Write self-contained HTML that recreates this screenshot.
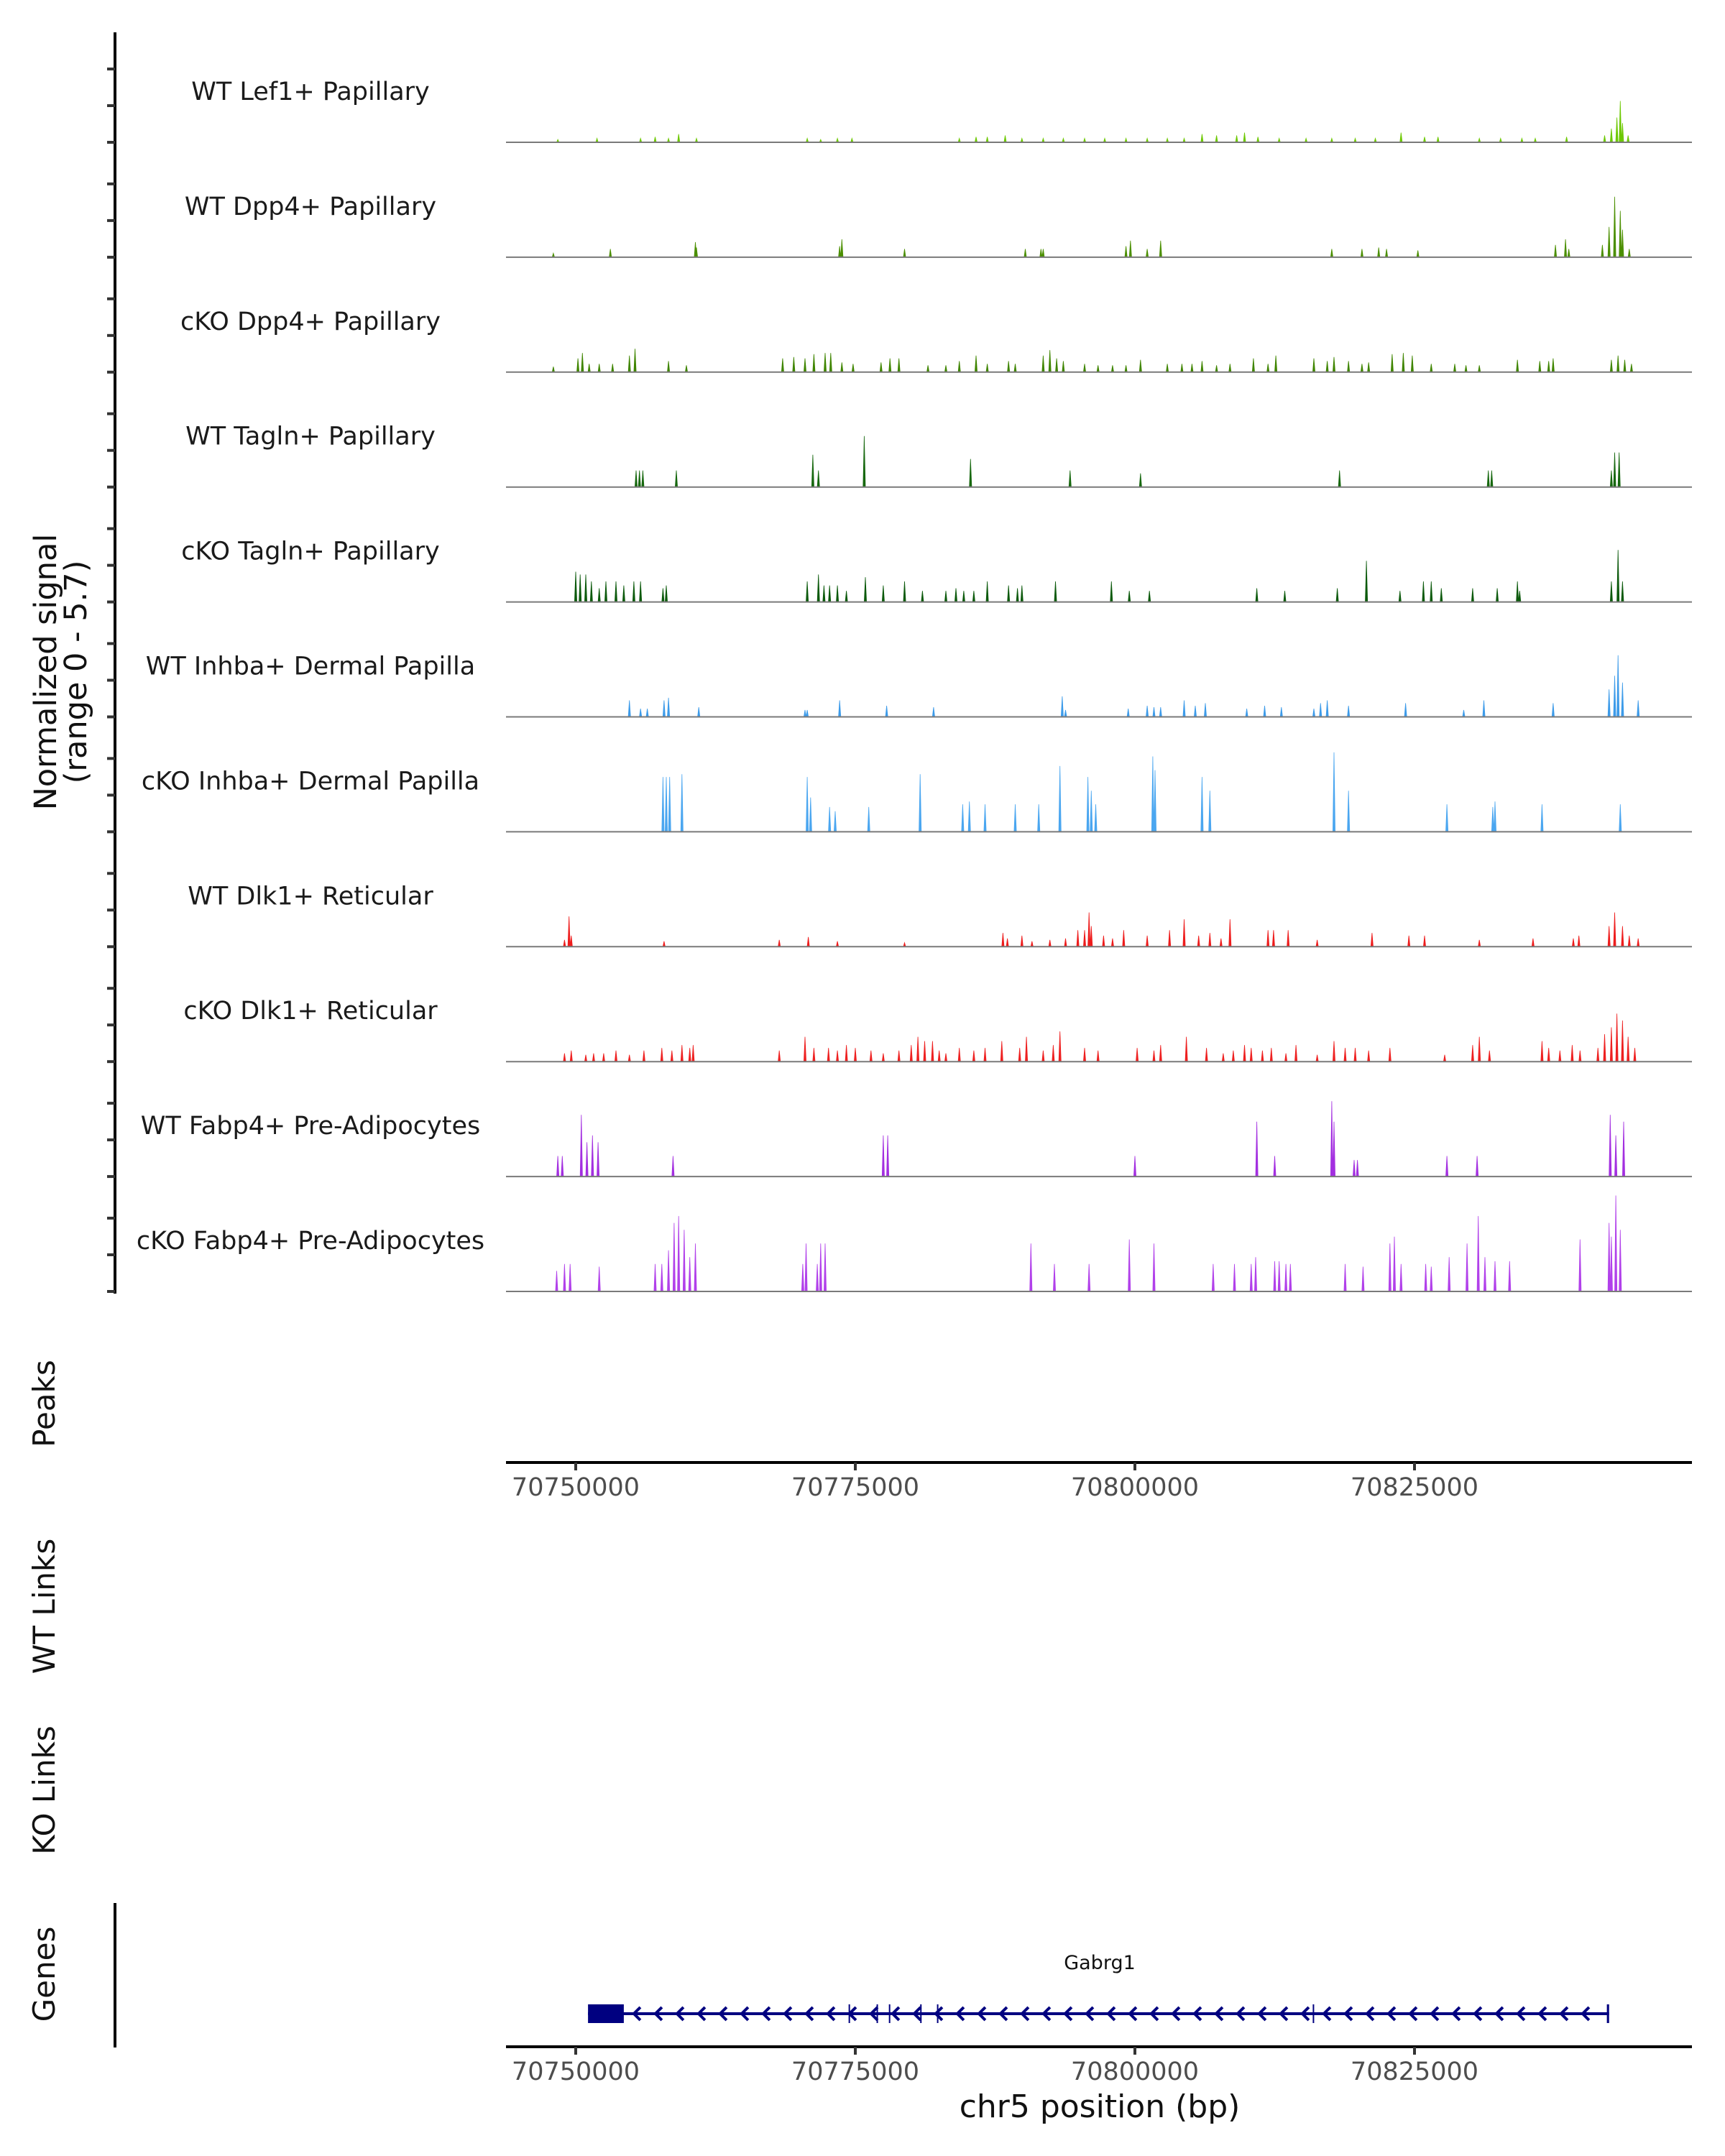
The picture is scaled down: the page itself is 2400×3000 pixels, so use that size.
<!DOCTYPE html>
<html><head><meta charset="utf-8"><style>
html,body{margin:0;padding:0;background:#fff;}
svg{display:block;font-family:"DejaVu Sans","Liberation Sans",sans-serif;}
</style></head>
<body>
<svg id="chart" width="2400" height="3000" viewBox="0 0 2400 3000" xmlns="http://www.w3.org/2000/svg">
<rect x="0" y="0" width="2400" height="3000" fill="#fff"/>
<g id="tracks"></g>
<g id="axes"></g>
<text transform="translate(78,935) rotate(-90)" text-anchor="middle" font-size="43" fill="#111">Normalized signal</text>
<text transform="translate(120,935) rotate(-90)" text-anchor="middle" font-size="43" fill="#111">(range 0 - 5.7)</text>
<text transform="translate(76,1953) rotate(-90)" text-anchor="middle" font-size="42" fill="#111">Peaks</text>
<text transform="translate(76,2235) rotate(-90)" text-anchor="middle" font-size="42" fill="#111">WT Links</text>
<text transform="translate(76,2491) rotate(-90)" text-anchor="middle" font-size="42" fill="#111">KO Links</text>
<text transform="translate(76,2747) rotate(-90)" text-anchor="middle" font-size="42" fill="#111">Genes</text>
<line x1="160" y1="2648" x2="160" y2="2849" stroke="#000" stroke-width="4"/>
<text x="1530" y="2946" text-anchor="middle" font-size="44" fill="#111">chr5 position (bp)</text>
<g id="gene"></g>
</svg>
<script>
// positions in kb offset from chr5:70,700,000 ; values in normalized signal
const trackNames = ["WT Lef1+ Papillary","WT Dpp4+ Papillary","cKO Dpp4+ Papillary","WT Tagln+ Papillary","cKO Tagln+ Papillary","WT Inhba+ Dermal Papilla","cKO Inhba+ Dermal Papilla","WT Dlk1+ Reticular","cKO Dlk1+ Reticular","WT Fabp4+ Pre-Adipocytes","cKO Fabp4+ Pre-Adipocytes"];
const trackColors = ["#6cc800","#4b8f00","#3f8500","#17680f","#0c5a0c","#3d9be9","#4aa6f0","#ee1d1d","#ee2020","#a32fe0","#b140ea"];
const lef1Pos = [48.4,51.9,55.8,57.1,58.3,59.2,60.8,70.7,71.9,73.4,74.7,84.3,85.8,86.8,88.4,89.9,91.8,93.6,95.5,97.3,99.2,101.1,102.9,104.4,106.0,107.3,109.1,109.8,111.0,112.9,115.3,117.6,119.7,121.5,123.8,125.9,127.1,130.8,132.7,134.6,135.8,138.6,142.0,142.6,143.1,143.4,143.6,144.1];
const lef1Val = [.14,.2,.2,.27,.2,.41,.2,.2,.14,.2,.2,.2,.27,.27,.34,.2,.2,.2,.2,.2,.2,.2,.2,.2,.41,.34,.34,.48,.27,.2,.2,.2,.2,.2,.48,.27,.27,.2,.2,.2,.2,.27,.34,.68,1.23,2.05,.95,.34];
const wtDpp4Pos = [48.0,53.1,60.7,60.8,73.6,73.8,79.4,90.2,91.6,91.8,99.2,99.6,101.1,102.3,117.6,120.3,121.8,122.5,125.3,137.6,138.5,138.8,141.8,142.4,142.9,143.4,143.6,144.2];
const wtDpp4Val = [.2,.41,.75,.48,.55,.89,.41,.41,.41,.41,.55,.82,.41,.82,.41,.41,.48,.41,.34,.61,.89,.41,.61,1.5,3.0,2.3,1.36,.41];
const koDpp4Pos = [48.0,50.2,50.6,51.2,52.1,53.3,54.8,55.3,58.3,59.9,68.5,69.5,70.5,71.3,72.3,72.8,73.8,74.8,77.3,78.1,78.9,81.5,83.1,84.3,85.8,86.8,88.7,89.3,91.8,92.4,93.0,93.6,95.5,96.7,98.0,99.2,100.5,102.9,104.2,105.1,106.0,107.3,108.5,110.6,111.9,112.6,116.0,117.2,117.8,119.1,120.3,120.9,123.0,124.0,124.8,126.5,128.6,129.6,130.8,134.2,136.2,137.0,137.4,142.6,143.2,143.8,144.4];
const koDpp4Val = [.27,.68,.95,.41,.41,.41,.82,1.16,.55,.34,.68,.75,.68,.89,.95,.95,.48,.41,.48,.68,.68,.34,.34,.55,.82,.41,.55,.41,.82,1.09,.68,.55,.41,.34,.34,.34,.61,.41,.41,.41,.55,.34,.41,.68,.41,.82,.68,.55,.75,.55,.41,.48,.89,.95,.82,.41,.41,.34,.34,.61,.55,.55,.68,.61,.82,.61,.41];
const wtTaglnPos = [55.4,55.7,56.0,59.0,71.2,71.7,75.8,85.3,94.2,100.5,118.3,131.6,131.9,142.6,142.9,143.3];
const wtTaglnVal = [.82,.82,.82,.82,1.6,.82,2.53,1.39,.82,.68,.82,.82,.82,.82,1.71,1.71];
const koTaglnPos = [50.0,50.4,50.9,51.4,52.1,52.7,53.6,54.3,55.2,55.8,57.8,58.1,70.7,71.7,72.2,72.7,73.4,74.2,75.9,77.5,79.4,81.0,83.1,84.0,84.7,85.6,86.8,88.7,89.5,89.9,92.9,97.9,99.5,101.3,110.9,113.4,118.1,120.7,123.7,125.8,126.5,127.4,130.2,132.4,134.2,134.4,142.6,143.2,143.6];
const koTaglnVal = [1.5,1.36,1.36,1.02,.68,1.02,1.02,.82,1.02,1.02,.68,.82,1.02,1.36,.82,.82,.82,.55,1.23,.82,1.02,.55,.55,.68,.55,.55,1.02,.82,.68,.82,1.02,1.02,.55,.55,.68,.55,.68,2.04,.55,1.02,1.02,.68,.68,.68,1.02,.55,1.02,2.58,1.02];
const wtInhbaPos = [54.8,55.8,56.4,57.9,58.3,61.0,70.5,70.7,73.6,77.8,82.0,93.5,93.8,99.4,101.1,101.7,102.3,104.4,105.4,106.3,110.0,111.6,113.1,116.0,116.6,117.2,119.1,124.2,129.4,131.2,137.4,142.4,142.9,143.2,143.6,145.0];
const wtInhbaVal = [.82,.41,.41,.82,.95,.48,.34,.34,.82,.55,.48,1.02,.34,.41,.55,.48,.48,.82,.55,.68,.41,.55,.48,.41,.68,.82,.55,.68,.34,.82,.68,1.36,2.04,3.06,1.7,.82];
const koInhbaPos = [57.8,58.1,58.4,59.5,70.7,71.0,72.7,73.2,76.2,80.8,84.6,85.2,86.6,89.3,91.4,93.3,95.8,96.1,96.5,101.6,101.8,106.0,106.7,117.8,119.1,127.9,132.0,132.2,136.4,143.4];
const koInhbaVal = [2.72,2.72,2.72,2.86,2.72,1.7,1.23,1.02,1.23,2.86,1.36,1.5,1.36,1.36,1.36,3.26,2.72,2.04,1.36,3.74,3.06,2.72,2.04,3.94,2.04,1.36,1.23,1.5,1.36,1.36];
const wtDlk1Pos = [49.0,49.4,49.6,57.9,68.2,70.8,73.4,79.4,88.2,88.6,89.9,90.8,92.4,93.8,94.9,95.5,95.9,96.1,97.2,98.0,99.0,101.1,103.1,104.4,105.7,106.7,107.7,108.5,111.9,112.4,113.7,116.3,121.2,124.5,125.9,130.8,135.6,139.2,139.7,142.4,142.9,143.6,144.2,145.0];
const wtDlk1Val = [.34,1.5,.55,.27,.34,.48,.27,.2,.68,.41,.55,.27,.34,.41,.82,.82,1.7,1.02,.55,.41,.82,.55,.82,1.36,.55,.68,.41,1.36,.82,.82,.82,.34,.68,.55,.55,.34,.41,.41,.55,1.02,1.7,1.02,.55,.41];
const koDlk1Pos = [49.0,49.6,50.9,51.6,52.5,53.6,54.8,56.1,57.7,58.6,59.5,60.2,60.5,68.2,70.5,71.3,72.6,73.4,74.2,75.0,76.4,77.5,78.9,80.0,80.6,81.2,81.9,82.5,83.1,84.3,85.6,86.6,88.1,89.7,90.3,91.8,92.7,93.3,95.5,96.7,100.2,101.7,102.3,104.6,106.4,107.9,108.8,109.8,110.4,111.4,112.2,113.5,114.4,116.3,117.8,118.8,119.7,120.9,122.8,127.7,130.2,130.8,131.7,136.4,137.0,138.0,139.1,139.8,141.4,142.0,142.6,143.1,143.6,144.1,144.7];
const koDlk1Val = [.41,.55,.34,.41,.41,.55,.34,.55,.68,.55,.82,.68,.82,.55,1.23,.68,.68,.55,.82,.68,.55,.41,.55,.82,1.23,1.02,1.02,.55,.41,.68,.55,.68,1.02,.68,1.23,.55,.82,1.5,.68,.55,.68,.55,.82,1.23,.68,.41,.55,.82,.68,.55,.68,.41,.82,.34,1.02,.68,.68,.55,.68,.34,.82,1.23,.55,1.02,.68,.55,.82,.55,.68,1.36,1.7,2.38,2.04,1.23,.68];
const wtFabp4Pos = [48.4,48.8,50.5,51.0,51.5,52.0,58.7,77.5,77.9,100.0,110.9,112.5,117.6,117.8,119.6,119.9,127.9,130.6,142.5,143.0,143.7];
const wtFabp4Val = [1.02,1.02,3.06,1.7,2.04,1.7,1.02,2.04,2.04,1.02,2.72,1.02,3.74,2.72,.82,.82,1.02,1.02,3.06,2.04,2.72];
const koFabp4Pos = [48.3,49.0,49.5,52.1,57.1,57.7,58.3,58.8,59.2,59.7,60.2,60.7,70.3,70.6,71.6,71.9,72.3,90.7,92.8,95.9,99.5,101.7,107.0,108.9,110.4,110.8,112.5,112.9,113.5,113.9,118.8,120.4,122.8,123.2,123.8,126.0,126.5,128.1,129.7,130.7,131.3,132.2,133.5,139.8,142.4,142.6,143.0,143.4];
const koFabp4Val = [1.02,1.36,1.36,1.23,1.36,1.36,2.04,3.4,3.74,3.06,1.7,2.38,1.36,2.38,1.36,2.38,2.38,2.38,1.36,1.36,2.58,2.38,1.36,1.36,1.36,1.7,1.5,1.5,1.36,1.36,1.36,1.23,2.38,2.72,1.36,1.36,1.23,1.7,2.38,3.74,1.7,1.5,1.5,2.58,3.4,2.72,4.76,3.06];
const trackPos = [lef1Pos,wtDpp4Pos,koDpp4Pos,wtTaglnPos,koTaglnPos,wtInhbaPos,koInhbaPos,wtDlk1Pos,koDlk1Pos,wtFabp4Pos,koFabp4Pos];
const trackVal = [lef1Val,wtDpp4Val,koDpp4Val,wtTaglnVal,koTaglnVal,wtInhbaVal,koInhbaVal,wtDlk1Val,koDlk1Val,wtFabp4Val,koFabp4Val];
const xTicks = [70750000,70775000,70800000,70825000];
const yMax = 5.7;
// gene model (kb offset from 70,700,000)
const geneName = "Gabrg1";
const geneStart = 51.1, geneEnd = 142.4;
const exonStarts = [51.1,74.4,76.9,78.0,80.8,82.3,115.9,142.2];
const exonEnds   = [54.3,74.5,77.0,78.1,80.9,82.4,116.0,142.4];

const NS="http://www.w3.org/2000/svg";
const X0=704, X1=2354, TICK0=801, PX_PER_KB=389/25;
function xs(kb){return TICK0+(kb-50)*PX_PER_KB;}
function xbp(bp){return xs(bp/1000-70700);}
const BASE0=198, STEP=159.9, TH=159.9;
function ys(v){return v/yMax*TH;}
function mk(tag,attrs,parent){const e=document.createElementNS(NS,tag);for(const k in attrs)e.setAttribute(k,attrs[k]);parent.appendChild(e);return e;}

const tracks=document.getElementById('tracks');
const axes=document.getElementById('axes');
const la=mk('line',{x1:160,y1:45,x2:160,y2:1800,stroke:'#000','stroke-width':4},axes);


for(let i=0;i<trackNames.length;i++){
  const b=BASE0+i*STEP;
  const g=mk('g',{},tracks);
  
  
  for(const off of [0,51,102]){
    const t=mk('line',{x1:149,y1:b-off,x2:160,y2:b-off,stroke:'#333','stroke-width':4},axes);
    
    
  }
  const lab=mk('text',{x:432,y:b-59,'text-anchor':'middle','font-size':35,fill:'#1a1a1a'},g);
  lab.textContent=trackNames[i];
  
  
  const pos=trackPos[i], val=trackVal[i];
  let d='';
  for(let j=0;j<pos.length;j++){
    const x=xs(pos[j]), h=ys(val[j]);
    d+=`M${(x-1.6).toFixed(1)},${b}L${x.toFixed(1)},${(b-h).toFixed(1)}L${(x+1.6).toFixed(1)},${b}Z`;
  }
  const p=mk('path',{d:d,fill:trackColors[i],stroke:trackColors[i],'stroke-width':0.8},g);
  
  
  const bl=mk('line',{x1:X0,y1:b,x2:X1,y2:b,stroke:'#7a7a7a','stroke-width':2},g);
  
  
}
function xAxis(y,name){
  const g=mk('g',{},axes);
  
  
  mk('line',{x1:X0,y1:y,x2:X1,y2:y,stroke:'#000','stroke-width':4},g);
  for(const t of xTicks){
    const x=xbp(t);
    mk('line',{x1:x,y1:y,x2:x,y2:y+11,stroke:'#333','stroke-width':4},g);
    const tx=mk('text',{x:x,y:y+46,'text-anchor':'middle','font-size':35,fill:'#4d4d4d'},g);
    tx.textContent=t;
    
    
  }
}
xAxis(2035,'peaks-x-axis');
xAxis(2848,'genes-x-axis');
const gg=document.getElementById('gene');
const GY=2802, navy='#000080';
mk('line',{x1:xs(geneStart),y1:GY,x2:xs(geneEnd),y2:GY,stroke:navy,'stroke-width':4},gg);
for(let k=0;k<exonStarts.length;k++){
  const x1=xs(exonStarts[k]), x2=xs(exonEnds[k]);
  const r=mk('rect',{x:x1,y:GY-13,width:Math.max(x2-x1,2),height:26,fill:navy},gg);
  
  
}
let ad='';
for(let x=xs(54.3)+14;x<xs(geneEnd)-8;x+=30){
  ad+=`M${(x+9).toFixed(1)},${GY-9}L${x.toFixed(1)},${GY}L${(x+9).toFixed(1)},${GY+9}`;
}
const ar=mk('path',{d:ad,fill:'none',stroke:navy,'stroke-width':4},gg);


const gl=mk('text',{x:1530,y:2740,'text-anchor':'middle','font-size':27,fill:'#111'},gg);
gl.textContent=geneName;


</script>
</body></html>
